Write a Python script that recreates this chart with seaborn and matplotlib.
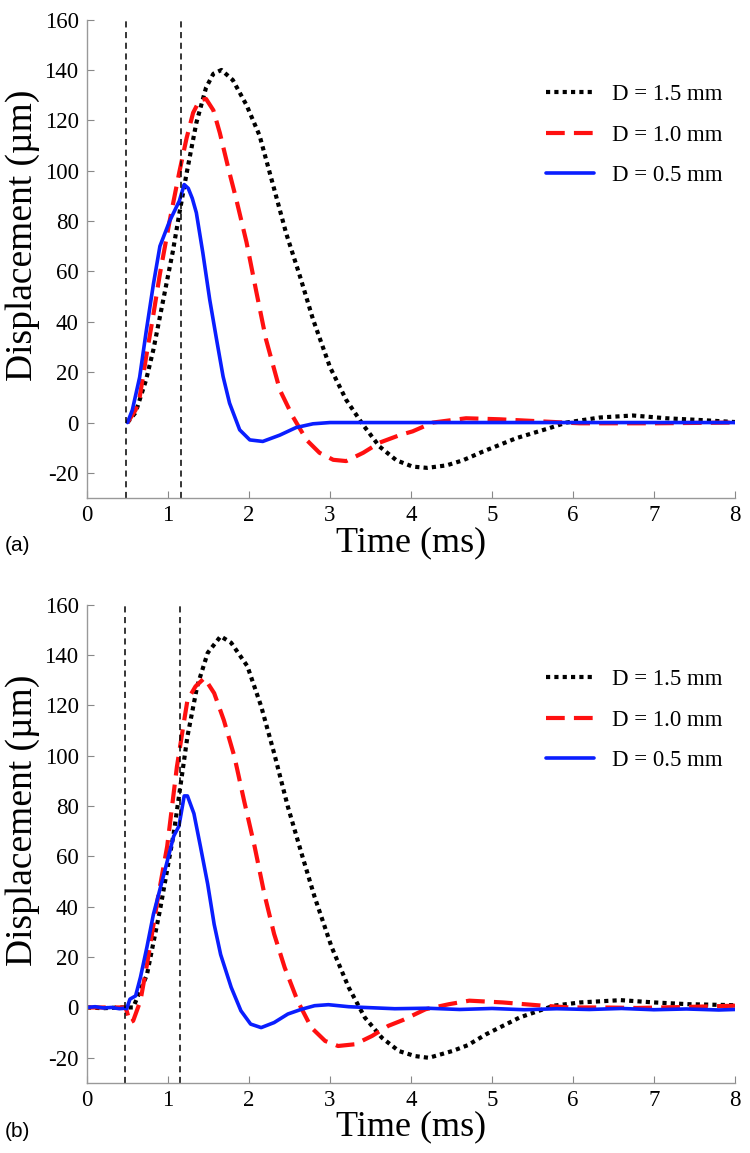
import matplotlib
matplotlib.use("Agg")
import matplotlib.pyplot as plt
import seaborn as sns

# ---- panel (a) ----
a_t_15 = [0.50, 0.60, 0.73, 0.82, 0.90, 0.98, 1.06, 1.14, 1.23, 1.35, 1.47, 1.56, 1.66, 1.80,
          1.97, 2.13, 2.30, 2.46, 2.63, 2.79, 3.00, 3.20, 3.41, 3.61, 3.82, 4.02, 4.20, 4.44,
          4.64, 4.89, 5.30, 5.71, 5.92, 6.33, 6.74, 7.15, 7.57, 8.00]
a_d_15 = [0, 4, 17, 29, 42, 55, 68, 83, 99, 119, 133, 138.5, 140, 136,
          126, 114, 94, 75, 58, 41, 22, 9, -1, -9.5, -15, -17.5, -18, -17,
          -15, -11.5, -6.2, -2.2, 0, 2, 2.8, 1.7, 1, 0.2]

a_t_10 = [0.50, 0.60, 0.65, 0.73, 0.82, 0.90, 1.02, 1.14, 1.23, 1.31, 1.39, 1.47, 1.56, 1.64,
          1.76, 1.84, 1.97, 2.09, 2.21, 2.38, 2.54, 2.71, 2.87, 3.04, 3.20, 3.41, 3.61, 3.86,
          4.02, 4.27, 4.68, 5.09, 5.71, 6.08, 7.00, 8.00]
a_d_10 = [0, 5, 10, 26, 43, 59, 80, 99.5, 113, 123, 128, 128.5, 124, 115,
          99, 89, 71.5, 52, 33, 13, 2.4, -6.9, -12, -14.8, -15.3, -12, -8, -5,
          -3.5, 0, 1.7, 1.3, 0.3, -0.3, -0.3, 0]

a_t_05 = [0.50, 0.56, 0.65, 0.73, 0.82, 0.90, 1.02, 1.14, 1.20, 1.25, 1.30, 1.35, 1.43, 1.515,
          1.60, 1.68, 1.76, 1.885, 2.01, 2.17, 2.38, 2.58, 2.79, 3.00, 4.00, 5.00, 6.00, 7.00,
          8.00]
a_d_05 = [0, 5, 18, 36, 55, 70, 80, 88, 94.5, 93, 89, 83.3, 67.4, 48.8,
          32.9, 18.3, 7.7, -2.9, -6.9, -7.5, -5, -2, -0.5, 0, 0, 0, 0, 0,
          0]

# ---- panel (b) ----
b_t_15 = [0.00, 0.20, 0.40, 0.50, 0.57, 0.74, 0.90, 1.07, 1.24, 1.36, 1.49, 1.65, 1.78, 1.98,
          2.15, 2.31, 2.48, 2.65, 2.81, 3.02, 3.23, 3.43, 3.64, 3.85, 4.05, 4.22, 4.51, 4.70,
          4.93, 5.34, 5.76, 6.09, 6.59, 7.00, 7.42, 8.00]
b_d_15 = [0, -0.3, 0, 0, 0, 13, 38.5, 69, 107.6, 127.5, 140.8, 147.4, 144.8, 135.5,
          119.6, 101, 79.7, 61, 43.9, 24, 8, -4, -12, -17.3, -19.3, -20, -17.3, -15,
          -10.6, -4, 0.7, 2, 2.9, 2, 1.3, 0.9]

b_t_10 = [0.00, 0.20, 0.47, 0.49, 0.53, 0.57, 0.66, 0.74, 0.87, 0.99, 1.11, 1.20, 1.24, 1.34,
          1.45, 1.57, 1.69, 1.82, 1.94, 2.07, 2.19, 2.31, 2.44, 2.60, 2.77, 2.94, 3.10, 3.31,
          3.52, 3.72, 3.90, 4.18, 4.47, 4.72, 5.13, 5.63, 5.96, 6.37, 6.79, 7.40, 8.00]
b_d_10 = [0, 0, 0, -1.3, -6, -5.3, 2.7, 17, 42.5, 64, 95.6, 114, 122, 127.5,
          130.8, 124.8, 114, 99.6, 82, 63.8, 45, 29.2, 15.9, 2.6, -8, -13.3, -15.3, -14.6,
          -11.3, -7.3, -5, -0.7, 1.3, 2.7, 2, 0.7, 0, 0, -0.2, 0.2, 0.7]

b_t_05 = [0.00, 0.10, 0.20, 0.30, 0.40, 0.47, 0.49, 0.53, 0.60, 0.66, 0.74, 0.82, 0.95, 1.07,
          1.135, 1.20, 1.24, 1.32, 1.40, 1.49, 1.57, 1.65, 1.78, 1.90, 2.02, 2.15, 2.31, 2.48,
          2.65, 2.81, 2.98, 3.23, 3.43, 3.80, 4.20, 4.60, 5.00, 5.40, 5.80, 6.20, 6.60, 7.00,
          7.40, 7.80, 8.00]
b_d_05 = [0, 0.3, -0.2, 0, -0.5, -0.3, -0.5, 3.3, 4.6, 12, 24, 37, 53, 68,
          72, 84, 84, 77, 64, 49, 33, 21, 8, -1.3, -6.6, -8, -6, -2.6,
          -0.7, 0.7, 1.1, 0.3, 0, -0.5, -0.3, -0.8, -0.4, -0.9, -0.5, -0.8, -0.4, -0.9,
          -0.6, -1, -0.8]

labels = ["D = 1.5 mm", "D = 1.0 mm", "D = 0.5 mm"]
a_marks = [0.48, 1.16]
b_marks = [0.47, 1.15]
x_ticks = [0, 1, 2, 3, 4, 5, 6, 7, 8]
y_ticks = [-20, 0, 20, 40, 60, 80, 100, 120, 140, 160]

sns.set_style("white")
plt.rcParams["font.family"] = ["Liberation Serif", "DejaVu Serif"]
plt.rcParams["axes.unicode_minus"] = False
plt.rcParams["text.color"] = "black"
plt.rcParams["axes.labelcolor"] = "black"

styles = [
    dict(color="black", linestyle=(0, (1, 1)), linewidth=3.0),
    dict(color="#ff1010", linestyle=(0, (4.5, 2.2)), linewidth=3.0),
    dict(color="#0a1eff", linestyle="-", linewidth=2.6),
]

fig = plt.figure(figsize=(7.5, 11.53), dpi=100)
ax_a = fig.add_axes([0.116, 0.568, 0.864, 0.415])
ax_b = fig.add_axes([0.116, 0.0607, 0.864, 0.415])

panels = [
    (ax_a, [(a_t_15, a_d_15), (a_t_10, a_d_10), (a_t_05, a_d_05)], a_marks, "(a)", 0.5265),
    (ax_b, [(b_t_15, b_d_15), (b_t_10, b_d_10), (b_t_05, b_d_05)], b_marks, "(b)", 0.019),
]

for ax, series, marks, tag, tag_y in panels:
    for (t, d), lab, st in zip(series, labels, styles):
        sns.lineplot(x=t, y=d, ax=ax, label=lab, sort=False, **st)
    for m in marks:
        ax.axvline(m, color="black", linestyle=(0, (4, 3)), linewidth=1.1)

    ax.set_xlim(0, 8)
    ax.set_ylim(-30, 160)
    ax.set_xticks(x_ticks)
    ax.set_yticks(y_ticks)
    ax.tick_params(direction="in", length=5, width=0.8, color="#888888",
                   labelcolor="black", labelsize=16.5, pad=6,
                   bottom=True, left=True)
    ax.tick_params(axis="x", pad=5)
    for side in ["top", "right"]:
        ax.spines[side].set_visible(False)
    for side in ["left", "bottom"]:
        ax.spines[side].set_color("#999999")
        ax.spines[side].set_linewidth(1.0)

    ax.set_xlabel("Time (ms)", fontsize=26)
    ax.set_ylabel("Displacement (µm)", fontsize=27)
    ax.xaxis.set_label_coords(0.5, -0.058)
    ax.yaxis.set_label_coords(-0.072, 0.55)

    ax.legend(loc="upper right", bbox_to_anchor=(1.012, 0.908), frameon=False,
              fontsize=16.5, handlelength=2.1, handletextpad=0.75, labelspacing=0.85)

    fig.text(0.007, tag_y, tag, fontsize=15, family="Liberation Sans", va="center")

fig.savefig("out.png", dpi=100, facecolor="white")
